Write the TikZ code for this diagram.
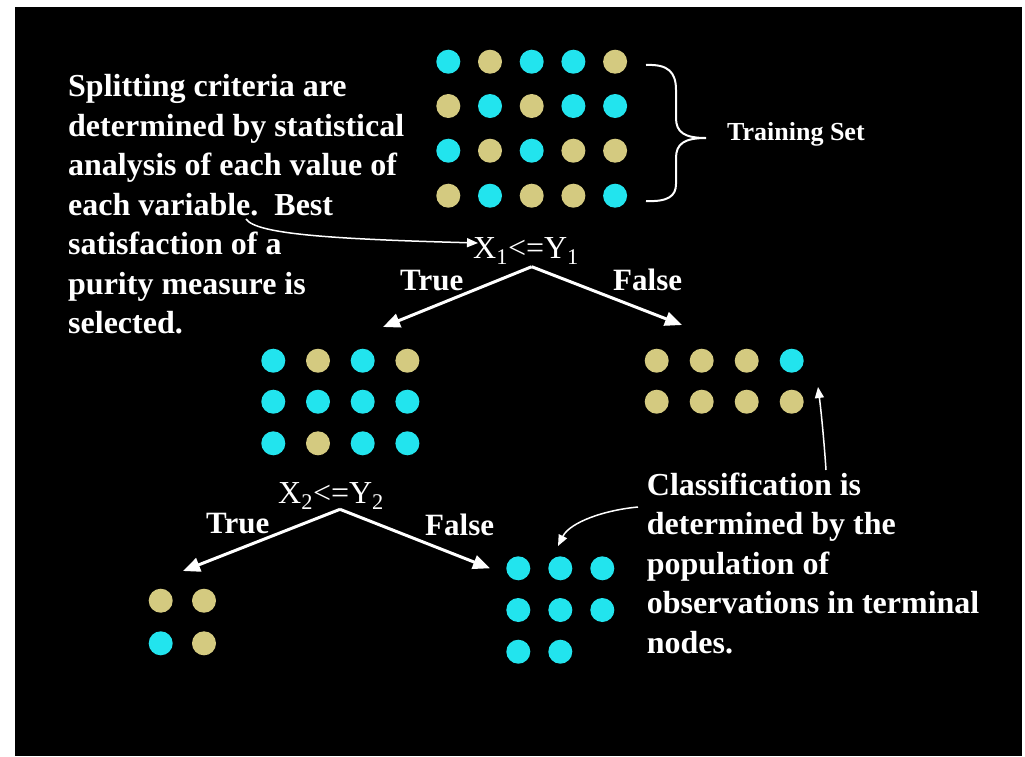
\documentclass[tikz,border=0pt]{standalone}
\usepackage{fontspec}
\setmainfont{Liberation Serif}
\usetikzlibrary{arrows.meta}
\definecolor{cy}{RGB}{34,228,238}
\definecolor{tn}{RGB}{212,202,128}
\tikzset{
  txt/.style={text=white, inner sep=0pt, anchor=base west},
  bodytxt/.style={txt, font=\fontsize{32}{39.5}\selectfont\bfseries},
  branchtxt/.style={txt, font=\fontsize{31}{37}\selectfont\bfseries},
  splittxt/.style={txt, font=\fontsize{32}{37}\selectfont},
  setttxt/.style={txt, font=\fontsize{26}{31}\selectfont\bfseries},
  bigarrow/.style={draw=white, line width=3pt, -{Triangle[length=17pt,width=14pt]}},
  thinarrow/.style={draw=white, line width=1.5pt, -{Triangle[length=11pt,width=9pt]}},
}
\newcommand\dotrow[4]{\foreach \c [count=\i from 0] in {#4} {\fill[\c] ({#1+#2*\i},#3) circle (12);}}
\begin{document}
\begin{tikzpicture}[x=1pt,y=-1pt]
\useasboundingbox (0,0) rectangle (1025,756);
\fill[white] (0,0) rectangle (1025,756);
\fill[black] (15,7) rectangle (1022,756);

% training set
\dotrow{448.3}{41.7}{61.7}{cy,tn,cy,cy,tn}
\dotrow{448.3}{41.7}{106}{tn,cy,tn,cy,cy}
\dotrow{448.3}{41.7}{150.7}{cy,tn,cy,tn,tn}
\dotrow{448.3}{41.7}{195.7}{tn,cy,tn,tn,cy}
\draw[white, line width=2pt] (646,65) .. controls (668,64) and (676,72) .. (676,90) -- (676,118)
  .. controls (676,132) and (684,138) .. (706,138)
  .. controls (684,138) and (676,144) .. (676,158) -- (676,184)
  .. controls (676,196) and (668,202) .. (646,201);
\node[setttxt] (train) at (727,140) {Training Set};

% left text
\node[bodytxt] (crit) at (68,96.7) {\begin{tabular}[t]{@{}l@{}}Splitting criteria are\\determined by statistical\\analysis of each value of\\each variable.\ \ Best\\satisfaction of a\\purity measure is\\selected.\end{tabular}};

% split 1
\node[splittxt] (s1) at (473,258) {X\textsubscript{1}<=Y\textsubscript{1}};
\coordinate (c1) at (246,219);
\coordinate (s1in) at (478,243);
\draw[thinarrow] (c1) .. controls (256,234) and (330,239) .. (s1in);
\coordinate (a1) at (531.7,266.7);
\coordinate (t1) at (383,327);
\coordinate (f1) at (682,325);
\draw[bigarrow] (a1) -- (t1);
\draw[bigarrow] (a1) -- (f1);
\node[branchtxt] (true1) at (400,290) {True};
\node[branchtxt] (false1) at (613,290) {False};

% middle groups
\dotrow{273.3}{44.7}{360.7}{cy,tn,cy,tn}
\dotrow{273.3}{44.7}{401.7}{cy,cy,cy,cy}
\dotrow{273.3}{44.7}{443.3}{cy,tn,cy,cy}
\dotrow{656.7}{45}{360.7}{tn,tn,tn,cy}
\dotrow{656.7}{45}{401.7}{tn,tn,tn,tn}

% split 2
\node[splittxt] (s2) at (278,503) {X\textsubscript{2}<=Y\textsubscript{2}};
\coordinate (a2) at (340,509.3);
\coordinate (t2) at (183,571);
\coordinate (f2) at (490,568.3);
\draw[bigarrow] (a2) -- (t2);
\draw[bigarrow] (a2) -- (f2);
\node[branchtxt] (true2) at (206,533) {True};
\node[branchtxt] (false2) at (425,535) {False};

% bottom groups
\dotrow{160.7}{43.3}{600.7}{tn,tn}
\dotrow{160.7}{43.3}{643.3}{cy,tn}
\dotrow{518.3}{42}{568.3}{cy,cy,cy}
\dotrow{518.3}{42}{610}{cy,cy,cy}
\dotrow{518.3}{42}{651.7}{cy,cy}

% classification text
\node[bodytxt] (cls) at (646.7,495) {\begin{tabular}[t]{@{}l@{}}Classification is\\determined by the\\population of\\observations in terminal\\nodes.\end{tabular}};
\coordinate (c2) at (638,507);
\coordinate (g2) at (558,546);
\draw[thinarrow] (c2) .. controls (605,510) and (570,522) .. (g2);
\coordinate (c3) at (826,470);
\coordinate (g3) at (818,387);
\draw[thinarrow] (c3) .. controls (824,440) and (821,410) .. (g3);
\end{tikzpicture}
\end{document}
